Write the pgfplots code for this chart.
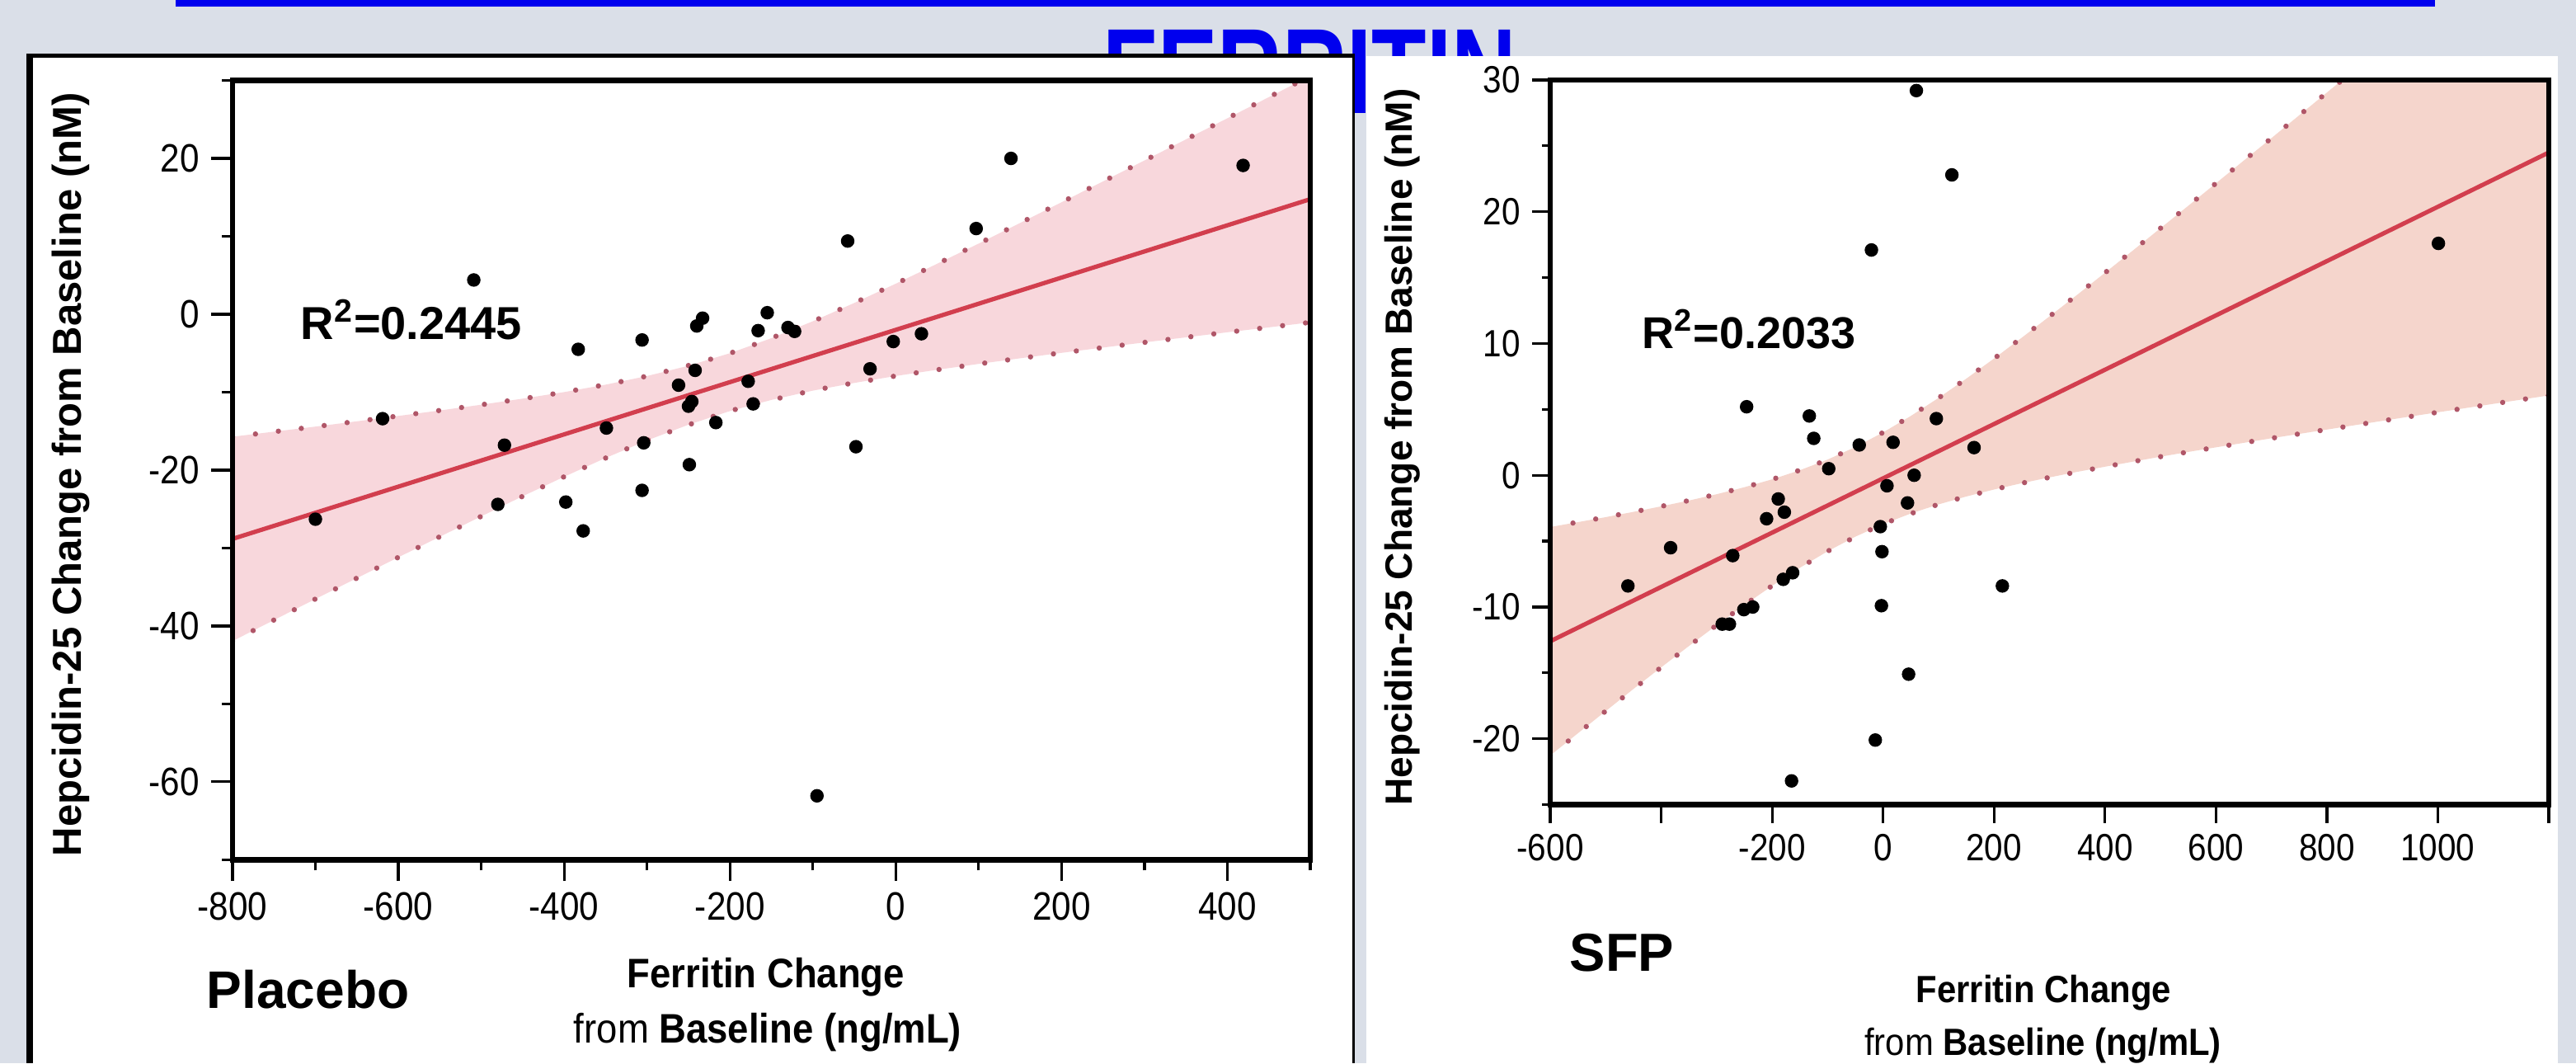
\documentclass[border=0pt]{standalone}
\usepackage{fontspec}
\setmainfont{Liberation Sans}
\newfontfamily\tickfont[FakeStretch=0.88]{Liberation Sans}
\newfontfamily\labfont[FakeStretch=0.91]{Liberation Sans}
\newfontfamily\titlefont[FakeStretch=0.74]{Liberation Sans}
\usepackage{pgfplots}
\pgfplotsset{compat=1.18}
\definecolor{bg}{RGB}{218,223,232}
\definecolor{ttlblue}{RGB}{0,0,238}
\definecolor{bandA}{RGB}{248,215,220}
\definecolor{bandB}{RGB}{245,213,204}
\definecolor{regred}{RGB}{210,62,78}
\definecolor{dotc}{RGB}{176,86,104}
\pgfplotsset{myax/.style={scale only axis, anchor=south west, axis on top,
  tick align=outside, tick pos=left, axis line style={line width=1.6pt},
  every tick/.style={black,line width=0.8pt}, axis background/.style={fill=white}},
  dotted band/.style={dotc, line width=1.6pt, line cap=round, dash pattern=on 0pt off 7pt, smooth}}
\begin{document}
\begin{tikzpicture}
\fill[bg] (0,0) rectangle (781pt,322.25pt);
\fill[ttlblue] (53.25pt,320.25pt) rectangle (738.25pt,322.25pt);
\node[anchor=base, text=ttlblue, font=\fontsize{36.75}{40}\titlefont\bfseries, inner sep=0] at (397.1pt,287.75pt) {FERRITIN};
% panels
\fill[white] (8pt,0) rectangle (410.75pt,306pt);
\fill[black] (8pt,0) rectangle (10pt,306pt);
\fill[black] (8pt,304.75pt) rectangle (410.75pt,306pt);
\fill[black] (410pt,0) rectangle (410.75pt,306pt);
\fill[white] (414.25pt,0) rectangle (775.5pt,305.25pt);

% ---------- Placebo ----------
\begin{axis}[myax, at={(70.5pt,61.675pt)}, width=326.75pt, height=236.175pt,
  xmin=-800, xmax=500, ymin=-70, ymax=30,
  xtick={-800,-600,-400,-200,0,200,400}, xticklabels={{-800},{-600},{-400},{-200},{0},{200},{400}},
  minor xtick={-700,-500,-300,-100,100,300,500},
  ytick={-60,-40,-20,0,20}, yticklabels={{-60},{-40},{-20},{0},{20}},
  minor ytick={-70,-50,-30,-10,10,30},
  major tick length=6.5pt, minor tick length=3.25pt,
  tick label style={font=\fontsize{12}{14}\tickfont}]
% 95% confidence band (upper edge left to right, then lower edge right to left)
\addplot[fill=bandA, draw=none] coordinates {
(-800,-15.72) (-750,-15.07) (-700,-14.42) (-650,-13.74) (-600,-13.05) (-550,-12.35) (-500,-11.61) (-450,-10.83)
(-400,-9.99) (-350,-9.04) (-300,-7.93) (-250,-6.61) (-200,-5.00) (-150,-3.07) (-100,-0.90) (-50,1.45)
(0,3.92) (50,6.48) (100,9.07) (150,11.71) (200,14.37) (250,17.05) (300,19.73) (350,22.44) (400,25.15) (450,27.86) (500,30.58)
(500,-1.04) (450,-1.68) (400,-2.31) (350,-2.96) (300,-3.61) (250,-4.27) (200,-4.95) (150,-5.65) (100,-6.37) (50,-7.12)
(0,-7.92) (-50,-8.81) (-100,-9.80) (-150,-10.99) (-200,-12.42) (-250,-14.17) (-300,-16.19) (-350,-18.44)
(-400,-20.85) (-450,-23.35) (-500,-25.93) (-550,-28.55) (-600,-31.19) (-650,-33.86) (-700,-36.54) (-750,-39.24) (-800,-41.94)};
\addplot[dotted band] coordinates {
(-800,-15.72) (-700,-14.42) (-600,-13.05) (-500,-11.61) (-400,-9.99) (-300,-7.93) (-200,-5.00) (-100,-0.90) (0,3.92) (100,9.07) (200,14.37) (300,19.73) (400,25.15) (500,30.58)};
\addplot[dotted band] coordinates {
(-800,-41.94) (-700,-36.54) (-600,-31.19) (-500,-25.93) (-400,-20.85) (-300,-16.19) (-200,-12.42) (-100,-9.80) (0,-7.92) (100,-6.37) (200,-4.95) (300,-3.61) (400,-2.31) (500,-1.04)};
\addplot[regred, line width=1.3pt] coordinates {(-800,-28.83) (500,14.77)};
\addplot[only marks, mark=*, mark size=1.85pt, black] coordinates {
(-700,-26.3) (-619,-13.4) (-509,4.4) (-472,-16.8) (-480,-24.4) (-398,-24.1) (-383,-4.5) (-377,-27.8)
(-349,-14.6) (-306,-3.3) (-304,-16.5) (-306,-22.6) (-262,-9.1) (-250,-11.8) (-246,-11.2) (-249,-19.3)
(-242,-7.2) (-240,-1.5) (-233,-0.5) (-217,-13.9) (-178,-8.6) (-172,-11.5) (-166,-2.1) (-155,0.2)
(-130,-1.7) (-122,-2.2) (-95,-61.8) (-58,9.4) (-48,-17.0) (-31,-7.0) (-3,-3.5) (31,-2.5)
(97,11.0) (139,20.0) (419,19.1)};
\end{axis}

% ---------- SFP ----------
\begin{axis}[myax, at={(470pt,78.375pt)}, width=302.75pt, height=219.625pt,
  xmin=-600, xmax=1200, ymin=-25, ymax=30,
  xtick={-600,-400,-200,0,200,400,600,800,1000,1200},
  xticklabels={{-600},{},{-200},{0},{200},{400},{600},{800},{1000},{}},
  ytick={-20,-10,0,10,20,30}, yticklabels={{-20},{-10},{0},{10},{20},{30}},
  minor ytick={-25,-15,-5,5,15,25},
  major tick length=5.5pt, minor tick length=2.5pt,
  tick label style={font=\fontsize{11.5}{13}\tickfont}]
\addplot[fill=bandB, draw=none] coordinates {
(-600,-3.93) (-550,-3.56) (-500,-3.18) (-450,-2.78) (-400,-2.36) (-350,-1.92) (-300,-1.44) (-250,-0.91)
(-200,-0.31) (-150,0.38) (-100,1.19) (-50,2.14) (0,3.25) (50,4.50) (100,5.87) (150,7.33) (200,8.86) (250,10.44)
(300,12.06) (350,13.70) (400,15.37) (450,17.05) (500,18.75) (550,20.45) (600,22.16) (650,23.88) (700,25.59)
(750,27.32) (800,29.05) (850,30.78) (900,32.51) (950,34.24) (1000,35.98) (1050,37.72) (1100,39.46) (1150,41.20) (1200,42.94)
(1200,6.06) (1150,5.74) (1100,5.42) (1050,5.10) (1000,4.78) (950,4.46) (900,4.13) (850,3.80) (800,3.47) (750,3.14)
(700,2.81) (650,2.46) (600,2.12) (550,1.77) (500,1.41) (450,1.03) (400,0.65) (350,0.26) (300,-0.16) (250,-0.60)
(200,-1.08) (150,-1.61) (100,-2.21) (50,-2.90) (0,-3.71) (-50,-4.66) (-100,-5.77) (-150,-7.02) (-200,-8.39)
(-250,-9.85) (-300,-11.38) (-350,-12.96) (-400,-14.58) (-450,-16.22) (-500,-17.90) (-550,-19.58) (-600,-21.27)};
\addplot[dotted band] coordinates {
(-600,-3.93) (-500,-3.18) (-400,-2.36) (-300,-1.44) (-200,-0.31) (-100,1.19) (0,3.25) (100,5.87) (200,8.86) (300,12.06) (400,15.37) (500,18.75) (600,22.16) (700,25.59) (800,29.05) (900,32.51) (1000,35.98) (1100,39.46) (1200,42.94)};
\addplot[dotted band] coordinates {
(-600,-21.27) (-500,-17.90) (-400,-14.58) (-300,-11.38) (-200,-8.39) (-100,-5.77) (0,-3.71) (100,-2.21) (200,-1.08) (300,-0.16) (400,0.65) (500,1.41) (600,2.12) (700,2.81) (800,3.47) (900,4.13) (1000,4.78) (1100,5.42) (1200,6.06)};
\addplot[regred, line width=1.3pt] coordinates {(-600,-12.60) (1200,24.50)};
\addplot[only marks, mark=*, mark size=1.85pt, black] coordinates {
(-460,-8.4) (-383,-5.5) (-271,-6.1) (-246,5.2) (-290,-11.3) (-277,-11.3) (-251,-10.2) (-235,-10.0)
(-210,-3.3) (-189,-1.8) (-178,-2.8) (-180,-7.9) (-163,-7.4) (-133,4.5) (-125,2.8) (-98,0.5)
(-43,2.3) (-5,-3.9) (-2,-5.8) (-3,-9.9) (7,-0.8) (18,2.5) (44,-2.1) (56,0)
(96,4.3) (164,2.1) (215,-8.4) (46,-15.1) (-14,-20.1) (-165,-23.2) (60,29.2) (124,22.8)
(-21,17.1) (1001,17.6)};
\end{axis}

% ---------- texts ----------
\node[rotate=90, anchor=base, inner sep=0, font=\fontsize{12.25}{14}\selectfont\bfseries] at (24.5pt,178.4pt) {Hepcidin-25 Change from Baseline (nM)};
\node[rotate=90, anchor=base, inner sep=0, font=\fontsize{11.5}{14}\selectfont\bfseries] at (428pt,186.75pt) {Hepcidin-25 Change from Baseline (nM)};
\node[anchor=base west, inner sep=0, font=\fontsize{14}{16}\selectfont\bfseries] at (91pt,219.5pt) {R\textsuperscript{2}=0.2445};
\node[anchor=base west, inner sep=0, font=\fontsize{13.5}{16}\selectfont\bfseries] at (497.75pt,216.75pt) {R\textsuperscript{2}=0.2033};
\node[anchor=base west, inner sep=0, font=\fontsize{16}{18}\selectfont\bfseries] at (62.5pt,16.75pt) {Placebo};
\node[anchor=base west, inner sep=0, font=\fontsize{16.25}{18}\selectfont\bfseries] at (475.75pt,28pt) {SFP};
\node[anchor=base, inner sep=0, font=\fontsize{12.5}{14}\labfont\bfseries] at (232.25pt,23pt) {Ferritin Change};
\node[anchor=base, inner sep=0, font=\fontsize{12.5}{14}\labfont\bfseries] at (232.75pt,6.25pt) {{\mdseries from} Baseline (ng/mL)};
\node[anchor=base, inner sep=0, font=\fontsize{11.5}{13}\labfont\bfseries] at (619.6pt,18.5pt) {Ferritin Change};
\node[anchor=base, inner sep=0, font=\fontsize{11.5}{13}\labfont\bfseries] at (619.4pt,2.5pt) {{\mdseries from} Baseline (ng/mL)};
\pgfresetboundingbox
\useasboundingbox (0,0) rectangle (781pt,322.25pt);
\end{tikzpicture}
\end{document}
